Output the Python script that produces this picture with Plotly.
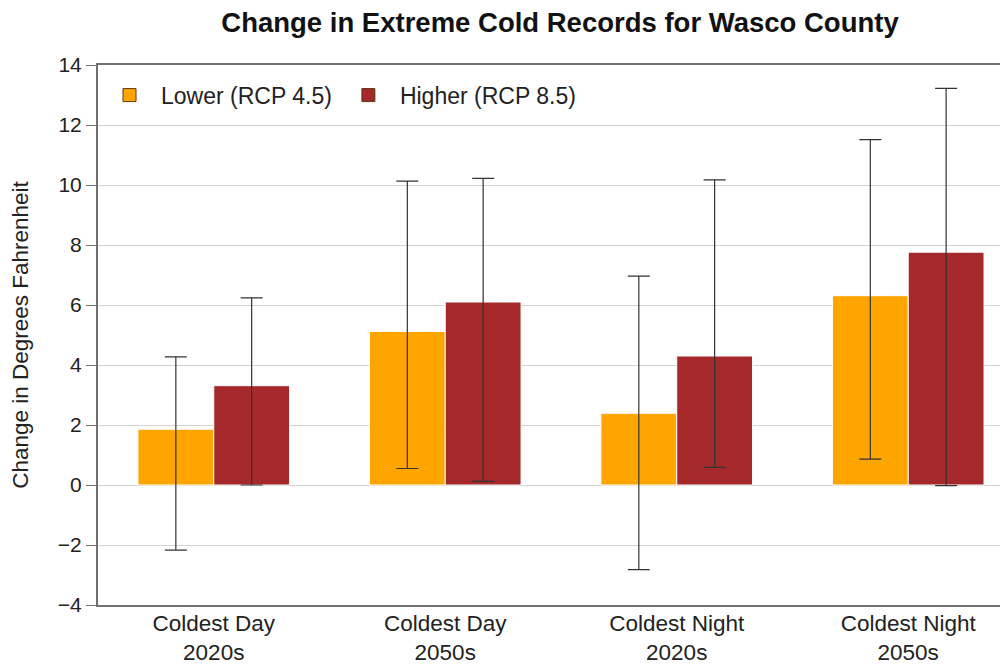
import plotly.graph_objects as go

categories = ["Coldest Day<br>2020s", "Coldest Day<br>2050s", "Coldest Night<br>2020s", "Coldest Night<br>2050s"]
lower_vals = [1.86, 5.12, 2.39, 6.31]
lower_hi = [4.27, 10.13, 6.96, 11.51]
lower_lo = [-2.17, 0.55, -2.82, 0.86]
higher_vals = [3.31, 6.10, 4.30, 7.76]
higher_hi = [6.24, 10.22, 10.17, 13.22]
higher_lo = [0.0, 0.12, 0.59, -0.02]

series_names = ["Lower (RCP 4.5)", "Higher (RCP 8.5)"]
series_colors = ["#FFA500", "#A5282A"]


def errs(vals, hi, lo):
    return [h - v for v, h in zip(vals, hi)], [v - l for v, l in zip(vals, lo)]


fig = go.Figure()
for name, color, vals, hi, lo in [
    (series_names[0], series_colors[0], lower_vals, lower_hi, lower_lo),
    (series_names[1], series_colors[1], higher_vals, higher_hi, higher_lo),
]:
    p, m = errs(vals, hi, lo)
    fig.add_trace(go.Bar(
        x=categories, y=vals, name=name, showlegend=False, legendgroup=name,
        marker=dict(color=color, line=dict(color="white", width=1)),
        error_y=dict(type="data", symmetric=False, array=p, arrayminus=m,
                     color="#333333", thickness=1.2, width=11),
    ))

# legend entries with dark outlined square swatches
for name, color in zip(series_names, series_colors):
    fig.add_trace(go.Scatter(
        x=[None], y=[None], mode="markers", name=name, legendgroup=name, showlegend=True,
        marker=dict(symbol="square", size=13, color=color, line=dict(color="#5a3a10", width=1)),
        hoverinfo="skip",
    ))

fig.update_layout(
    width=1000, height=658,
    margin=dict(l=90, r=0, t=57, b=61),
    paper_bgcolor="white", plot_bgcolor="white",
    font=dict(family="Arial, Liberation Sans, sans-serif", size=23, color="#222222"),
    title=dict(text="<b>Change in Extreme Cold Records for Wasco County</b>",
               x=(560 - 8) / 1000, xanchor="center", y=1 - 14 / 658, yanchor="middle",
               font=dict(size=27.5, color="#111111")),
    barmode="group", bargap=0.345, bargroupgap=0.0,
    legend=dict(orientation="h", x=0.0, y=0.984, xanchor="left", yanchor="top",
                bgcolor="rgba(0,0,0,0)", font=dict(size=23),
                itemwidth=53, traceorder="normal"),
    showlegend=True,
)
fig.update_xaxes(
    range=[-0.5, -0.5 + 910 / 232], showgrid=False, automargin=False,
    showline=True, linecolor="#707070", linewidth=2, mirror=True,
    ticks="", tickfont=dict(size=22.5), ticklabelstandoff=-3,
)
fig.update_yaxes(
    range=[-4, 14], dtick=2, tick0=0, automargin=True,
    showgrid=True, gridcolor="#d3d3d3", gridwidth=1,
    zeroline=True, zerolinecolor="#d3d3d3", zerolinewidth=1,
    showline=True, linecolor="#707070", linewidth=2, mirror=True,
    ticks="outside", ticklen=10, tickcolor="#707070",
    tickfont=dict(size=21),
    title=dict(text="Change in Degrees Fahrenheit", font=dict(size=22.5), standoff=24),
)

fig.write_html("out.html")
